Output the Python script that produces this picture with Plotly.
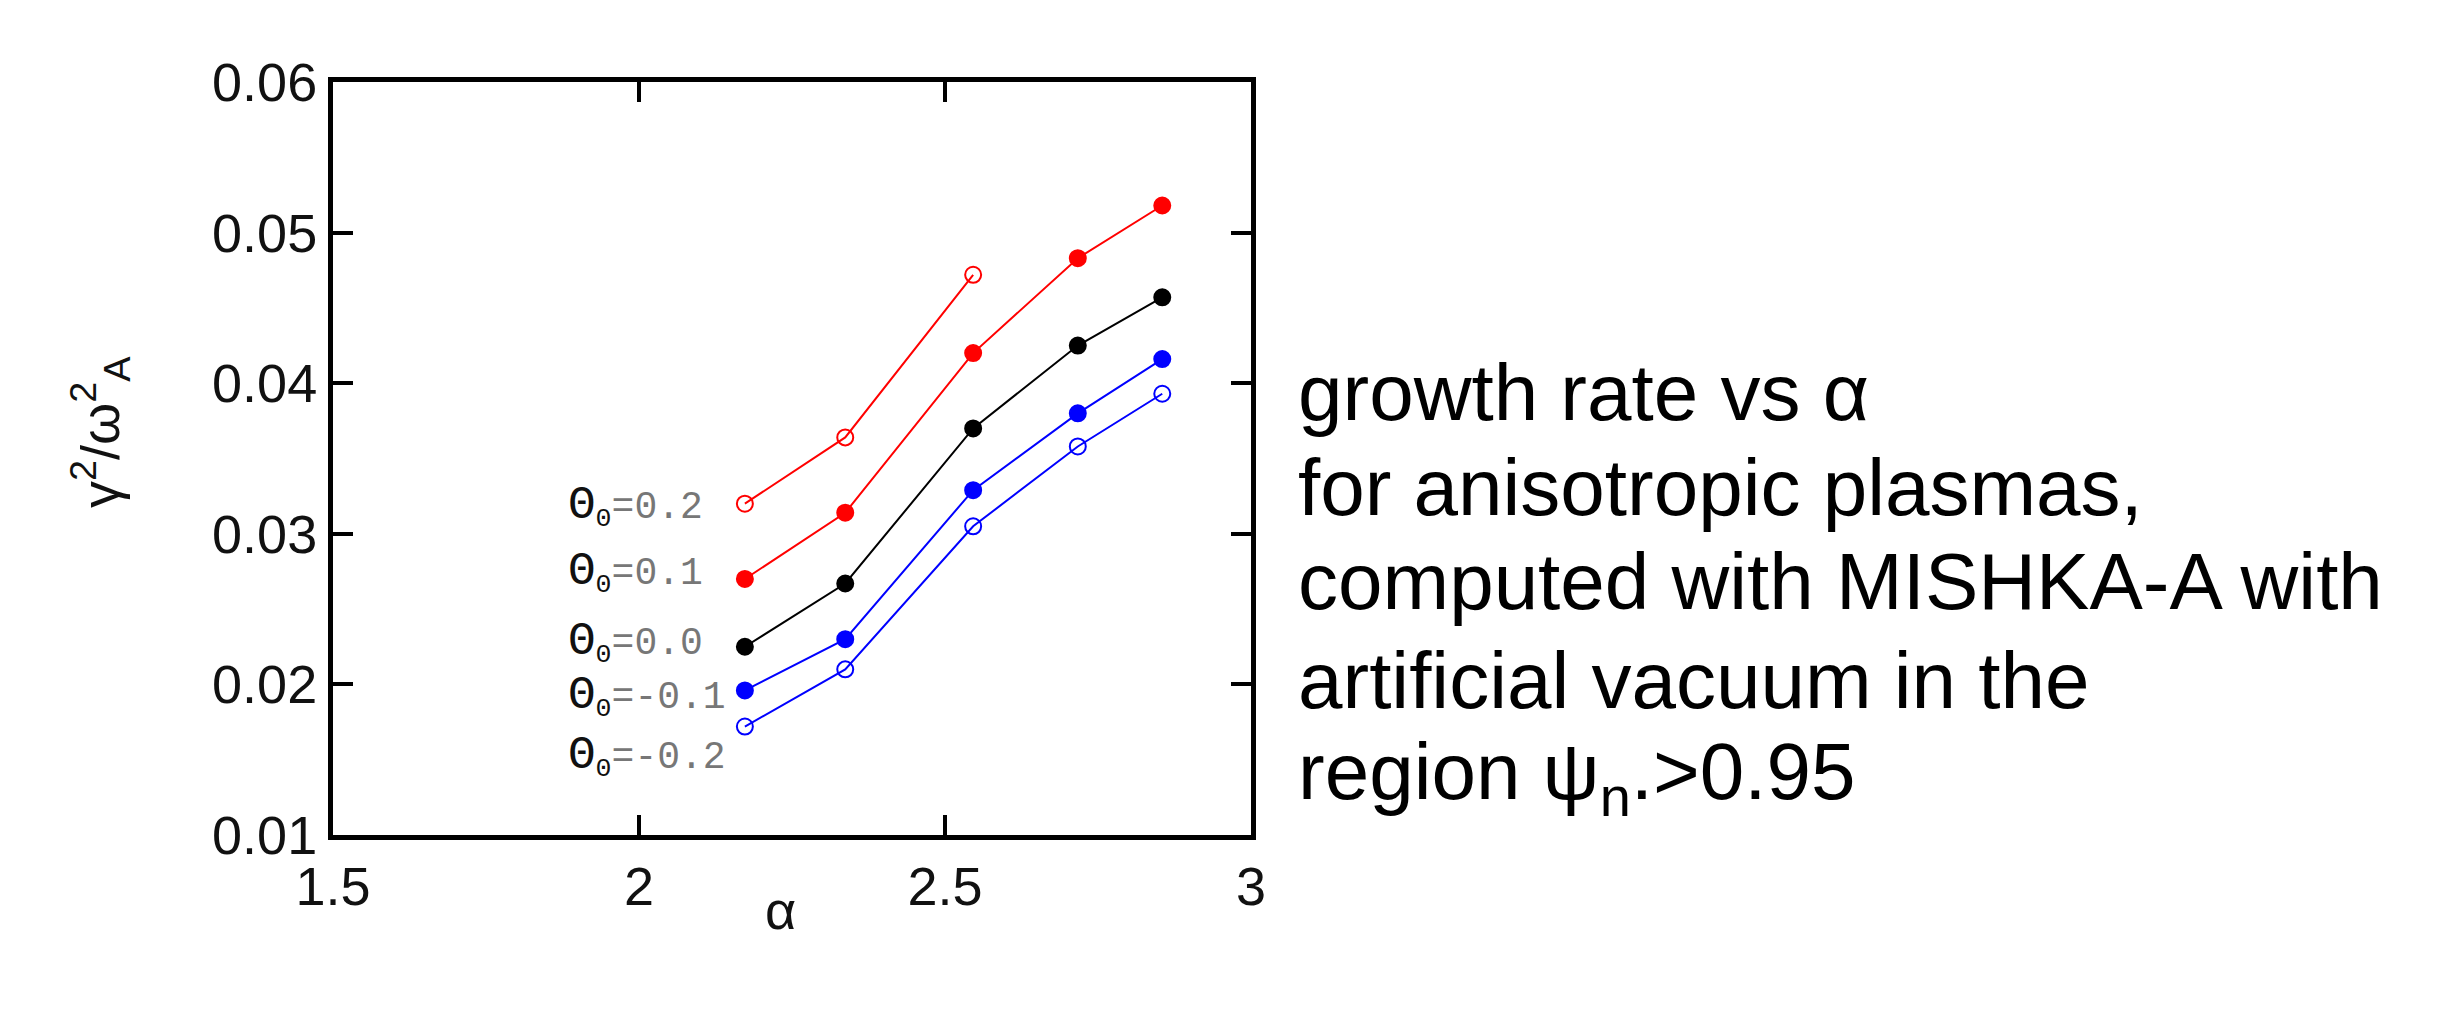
import plotly.graph_objects as go

# ---- data ----
alpha = [2.173, 2.337, 2.546, 2.717, 2.855]
theta_labels = ["0.2", "0.1", "0.0", "-0.1", "-0.2"]
g_p02 = [0.0320, 0.0364, 0.0472]
g_p01 = [0.0270, 0.0314, 0.0420, 0.0483, 0.0518]
g_000 = [0.0225, 0.0267, 0.0370, 0.0425, 0.0457]
g_m01 = [0.0196, 0.0230, 0.0329, 0.0380, 0.0416]
g_m02 = [0.0172, 0.0210, 0.0305, 0.0358, 0.0393]
x_ticks = [1.5, 2, 2.5, 3]
x_tick_text = ["1.5", "2", "2.5", "3"]
y_ticks = [0.01, 0.02, 0.03, 0.04, 0.05, 0.06]
y_tick_text = ["0.01", "0.02", "0.03", "0.04", "0.05", "0.06"]
caption_lines = [
    "growth rate vs α",
    "for anisotropic plasmas,",
    "computed with MISHKA-A with",
    "artificial vacuum in the",
    "region ψ<sub>n</sub>.>0.95",
]

W, H = 2460, 1017
L, R, T, B = 325, 1243, 74, 827

def px(x):
    return (x - L) / (R - L)

def py(y):
    return (B - y) / (B - T)

series = [
    (g_p02, "#ff0000", "circle-open"),
    (g_p01, "#ff0000", "circle"),
    (g_000, "#000000", "circle"),
    (g_m01, "#0000ff", "circle"),
    (g_m02, "#0000ff", "circle-open"),
]

fig = go.Figure()
for vals, col, sym in series:
    fig.add_trace(go.Scatter(
        x=alpha[:len(vals)], y=vals, mode="lines+markers",
        line=dict(color=col, width=2),
        marker=dict(symbol=sym, size=16, color=col,
                    line=dict(color=col, width=2)),
        showlegend=False,
    ))

axis_common = dict(
    showline=True, linewidth=5, linecolor="black", mirror="ticks",
    ticks="inside", ticklen=20, tickwidth=4, tickcolor="black",
    showgrid=False, zeroline=False,
    tickfont=dict(family="Liberation Sans, Arial", size=54, color="#111"),
)

fig.update_layout(
    width=W, height=H,
    margin=dict(l=L, r=W - R, t=T, b=H - B),
    paper_bgcolor="white", plot_bgcolor="white",
    xaxis=dict(range=[1.5, 3], tickvals=x_ticks, ticktext=x_tick_text, **axis_common),
    yaxis=dict(range=[0.01, 0.06], tickvals=y_ticks, ticktext=y_tick_text, **axis_common),
)

# Theta labels
label_y_px = [497, 563, 633, 687, 747]
for lab, ypix in zip(theta_labels, label_y_px):
    fig.add_annotation(
        xref="paper", yref="paper", x=px(558), y=py(ypix + 2),
        xanchor="left", yanchor="middle", showarrow=False,
        text="<span style='font-size:46px'>Θ</span><sub>0</sub><span style='color:#777'>=" + lab + "</span>",
        font=dict(family="Liberation Mono, Courier New", size=38, color="#111"),
    )

# axis titles
fig.add_annotation(
    xref="paper", yref="paper", x=px(772), y=py(902),
    xanchor="center", yanchor="middle", showarrow=False,
    text="α", font=dict(family="Liberation Sans, Arial", size=54, color="#111"),
)
fig.add_annotation(
    xref="paper", yref="paper", x=px(92), y=py(424),
    xanchor="center", yanchor="middle", showarrow=False, textangle=-90,
    text="γ<sup>2</sup>/ω<sup>2</sup><sub>A</sub>",
    font=dict(family="Liberation Sans, Arial", size=54, color="#111"),
)

# caption text
cap_y = [384, 479, 573, 672, 769]
for line, ypix in zip(caption_lines, cap_y):
    fig.add_annotation(
        xref="paper", yref="paper", x=px(1288), y=py(ypix),
        xanchor="left", yanchor="middle", showarrow=False,
        text=line, font=dict(family="Liberation Sans, Arial", size=80, color="black"),
    )

fig.write_html("out.html")
